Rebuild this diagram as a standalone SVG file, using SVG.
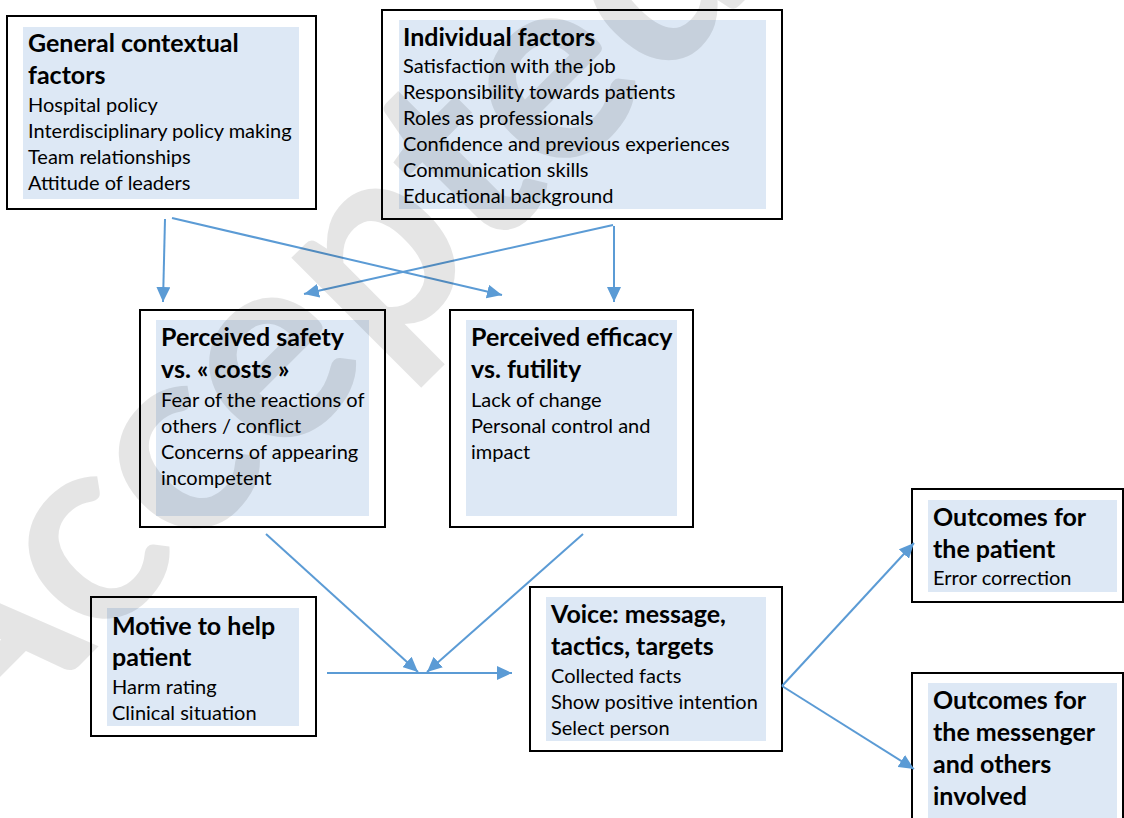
<svg xmlns="http://www.w3.org/2000/svg" width="1124" height="818" viewBox="0 0 1124 818">
<defs>
<marker id="arr" markerUnits="userSpaceOnUse" viewBox="0 0 15 14" refX="15" refY="7" markerWidth="15" markerHeight="14" orient="auto">
<path d="M0,0 L15,7 L0,14 z" fill="#5b9bd5"/>
</marker>
</defs>
<style>
.box{fill:#fff;stroke:#000;stroke-width:2}
.fill{fill:#dde8f5}
text{font-family:Lato,"Liberation Sans","Noto Sans",sans-serif;fill:#000}
.h{font-weight:bold;font-size:25px}
.b{font-size:20px}
.conn line{stroke:#5b9bd5;stroke-width:2;fill:none;marker-end:url(#arr)}
.wm{font-family:Lato,"Liberation Sans",sans-serif;font-weight:bold;font-size:270px;fill:#000;fill-opacity:0.1}
</style>
<rect width="1124" height="818" fill="#fff"/>

<g id="general">
<rect class="box" x="7" y="16" width="309" height="193"/>
<rect class="fill" x="23" y="27" width="276" height="172"/>
<text class="h" x="28" y="52">General contextual</text>
<text class="h" x="28" y="84">factors</text>
<text class="b" x="28" y="112">Hospital policy</text>
<text class="b" x="28" y="138">Interdisciplinary policy making</text>
<text class="b" x="28" y="164">Team relationships</text>
<text class="b" x="28" y="190">Attitude of leaders</text>
</g>

<g id="individual">
<rect class="box" x="382" y="10" width="400" height="209"/>
<rect class="fill" x="399" y="20" width="367" height="189"/>
<text class="h" x="403" y="46">Individual factors</text>
<text class="b" x="403" y="73">Satisfaction with the job</text>
<text class="b" x="403" y="99">Responsibility towards patients</text>
<text class="b" x="403" y="125">Roles as professionals</text>
<text class="b" x="403" y="151">Confidence and previous experiences</text>
<text class="b" x="403" y="177">Communication skills</text>
<text class="b" x="403" y="203">Educational background</text>
</g>

<g id="safety">
<rect class="box" x="140" y="310" width="245" height="217"/>
<rect class="fill" x="156" y="320" width="213" height="196"/>
<text class="h" x="161" y="346">Perceived safety</text>
<text class="h" x="161" y="378">vs. « costs »</text>
<text class="b" x="161" y="407">Fear of the reactions of</text>
<text class="b" x="161" y="433">others / conflict</text>
<text class="b" x="161" y="459">Concerns of appearing</text>
<text class="b" x="161" y="485">incompetent</text>
</g>

<g id="efficacy">
<rect class="box" x="450" y="310" width="243" height="217"/>
<rect class="fill" x="466" y="320" width="211" height="196"/>
<text class="h" x="471" y="346">Perceived efficacy</text>
<text class="h" x="471" y="378">vs. futility</text>
<text class="b" x="471" y="407">Lack of change</text>
<text class="b" x="471" y="433">Personal control and</text>
<text class="b" x="471" y="459">impact</text>
</g>

<g id="motive">
<rect class="box" x="91" y="597" width="225" height="139"/>
<rect class="fill" x="107" y="608" width="192" height="118"/>
<text class="h" x="112" y="635">Motive to help</text>
<text class="h" x="112" y="666">patient</text>
<text class="b" x="112" y="694">Harm rating</text>
<text class="b" x="112" y="720">Clinical situation</text>
</g>

<g id="voice">
<rect class="box" x="530" y="587" width="252" height="164"/>
<rect class="fill" x="546" y="597" width="220" height="144"/>
<text class="h" x="551" y="623">Voice: message,</text>
<text class="h" x="551" y="655">tactics, targets</text>
<text class="b" x="551" y="683">Collected facts</text>
<text class="b" x="551" y="709">Show positive intention</text>
<text class="b" x="551" y="735">Select person</text>
</g>

<g id="outcome-patient">
<rect class="box" x="912" y="489" width="211" height="113"/>
<rect class="fill" x="928" y="500" width="189" height="92"/>
<text class="h" x="933" y="526">Outcomes for</text>
<text class="h" x="933" y="558">the patient</text>
<text class="b" x="933" y="585">Error correction</text>
</g>

<g id="outcome-messenger">
<rect class="box" x="912" y="673" width="211" height="160"/>
<rect class="fill" x="928" y="683" width="189" height="140"/>
<text class="h" x="933" y="709">Outcomes for</text>
<text class="h" x="933" y="741">the messenger</text>
<text class="h" x="933" y="773">and others</text>
<text class="h" x="933" y="805">involved</text>
</g>

<g id="connectors" class="conn">
<line x1="165" y1="219" x2="163" y2="302"/>
<line x1="172" y1="218" x2="502" y2="295"/>
<line x1="613" y1="225" x2="304" y2="294"/>
<line x1="614" y1="226" x2="614" y2="302"/>
<line x1="266" y1="534" x2="418" y2="672"/>
<line x1="583" y1="534" x2="427" y2="672"/>
<line x1="327" y1="673" x2="512" y2="673"/>
<line x1="782" y1="686" x2="914" y2="543"/>
<line x1="782" y1="686" x2="914" y2="769"/>
</g>

<text class="wm" transform="translate(-35,780) rotate(-45)">Accepted Article</text>
</svg>
